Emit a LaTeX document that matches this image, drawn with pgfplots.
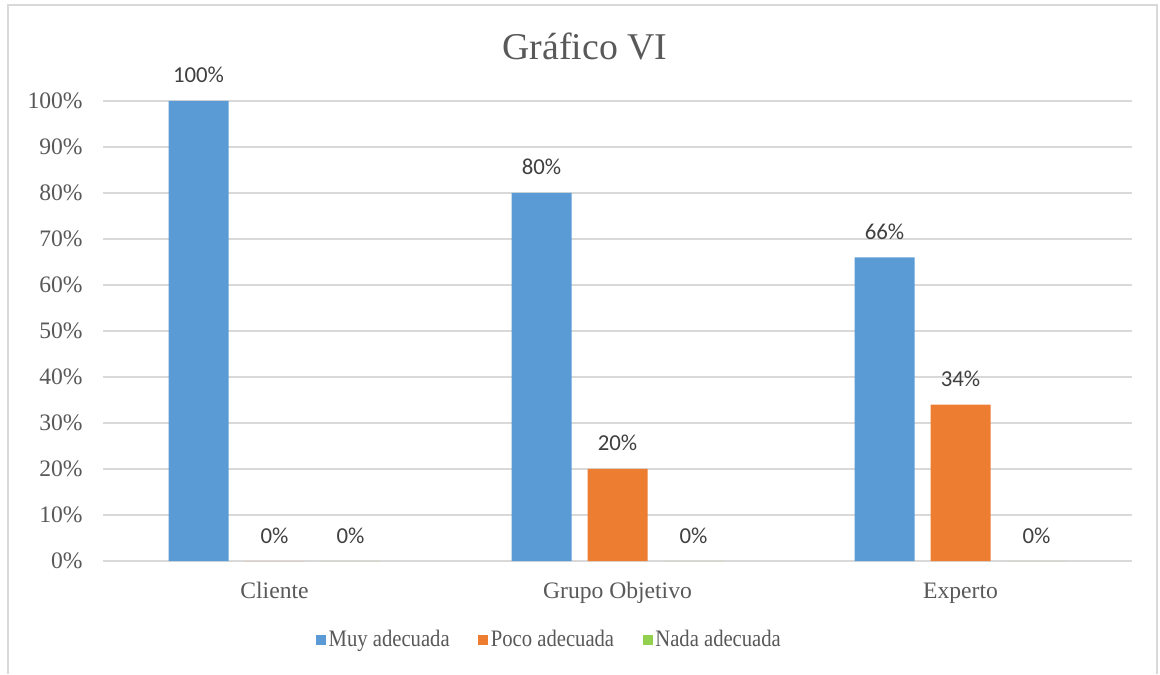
\documentclass[border=0pt]{standalone}
\usepackage{fontspec}
\setmainfont{Liberation Serif}
\newfontfamily\calibri{Carlito}
\newfontfamily\legfont{Liberation Serif}[FakeStretch=0.875]
\usepackage{pgfplots}
\pgfplotsset{compat=1.18}

\definecolor{muy}{HTML}{5B9BD5}
\definecolor{poco}{HTML}{ED7D31}
\definecolor{nada}{HTML}{92D050}
\definecolor{gridgray}{HTML}{D9D9D9}
\definecolor{txtgray}{HTML}{595959}
\definecolor{lblgray}{HTML}{404040}

\begin{document}
\begin{tikzpicture}
% page area and the chart frame (open at the bottom)
\useasboundingbox[fill=white] (0,0) rectangle (580pt,337pt);
\draw[gridgray, line width=0.6pt] (4pt,0) -- (4pt,334.5pt) -- (578.5pt,334.5pt) -- (578.5pt,0);

\node[anchor=base, font=\fontsize{18.9}{22}\selectfont, text=txtgray, inner sep=0pt]
  at (292.5pt,307pt) {Gráfico VI};

\begin{axis}[
  at={(51.5pt,56.5pt)}, anchor=south west,
  scale only axis, width=514.5pt, height=230pt,
  xmin=-0.5, xmax=2.5, ymin=0, ymax=100,
  ybar, bar width=30pt,
  axis line style={draw=none},
  major tick length=0pt,
  xtick={0,1,2},
  xticklabels={Cliente, Grupo Objetivo, Experto},
  ytick={0,10,...,100},
  yticklabel={\pgfmathprintnumber{\tick}\%},
  /pgf/number format/assume math mode=true,
  ymajorgrids, grid style={gridgray, line width=0.8pt},
  ticklabel style={text=txtgray, font=\fontsize{11.8}{14}\selectfont},
  yticklabel style={anchor=east, inner sep=0pt, xshift=-10pt},
  xticklabel style={anchor=base, inner sep=0pt, yshift=-18.5pt},
  nodes near coords={\pgfmathprintnumber{\pgfplotspointmeta}\%},
  every node near coord/.append style={anchor=base, inner sep=0pt, yshift=9pt,
    text=lblgray, font=\calibri\fontsize{11.4}{13}\selectfont},
  legend style={at={(0.434,-0.172)}, anchor=center, draw=none, fill=none,
    legend columns=3, font=\legfont\fontsize{11.8}{14}\selectfont, text=txtgray,
    /tikz/every even column/.append style={column sep=13pt},
    /tikz/every odd column/.append style={column sep=0pt},
    inner sep=0pt,
    nodes={inner sep=1.2pt}},
  legend image code/.code={\fill[#1] (0pt,-2.6pt) rectangle (5.2pt,2.6pt);},
  legend cell align=left,
]
\addplot[fill=muy, draw=none, bar shift=-38pt] coordinates {(0,100) (1,80) (2,66)};
\addplot[fill=poco, draw=none, bar shift=0pt] coordinates {(0,0) (1,20) (2,34)};
\addplot[fill=nada, draw=none, bar shift=38pt] coordinates {(0,0) (1,0) (2,0)};
\legend{Muy adecuada, Poco adecuada, Nada adecuada}
\end{axis}
\end{tikzpicture}
\end{document}
